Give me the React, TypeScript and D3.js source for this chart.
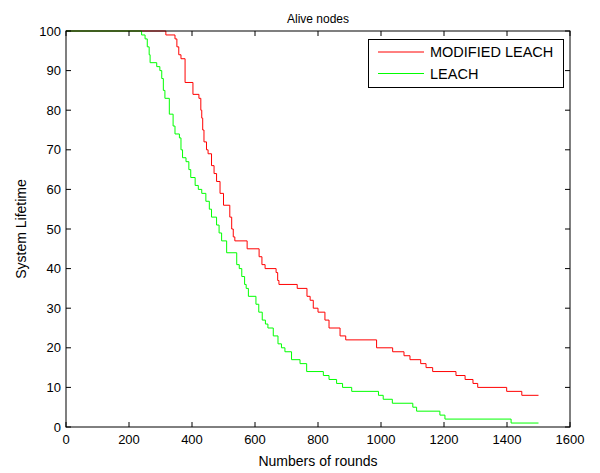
import React from "react";
import * as d3 from "d3";

const xTicks = [0, 200, 400, 600, 800, 1000, 1200, 1400, 1600];
const yTicks = [0, 10, 20, 30, 40, 50, 60, 70, 80, 90, 100];

const modifiedLeach: [number, number][] = [
  [0, 100], [317, 99], [346, 98], [352, 96], [358, 94], [365, 93], [378, 87], [403, 84], [422, 83],
  [428, 80], [431, 78], [434, 75], [438, 72], [446, 70], [451, 69], [462, 66], [470, 64], [478, 62],
  [489, 59], [500, 56], [520, 53], [526, 50], [531, 48], [536, 47], [575, 45], [613, 43], [622, 41],
  [632, 40], [667, 39], [672, 37], [676, 36], [734, 35], [765, 33], [775, 32], [785, 30], [800, 29],
  [822, 27], [835, 25], [870, 23], [888, 22], [986, 20], [1037, 19], [1073, 18], [1092, 17],
  [1126, 16], [1143, 15], [1164, 14], [1238, 13], [1267, 12], [1292, 11], [1307, 10], [1399, 9],
  [1447, 8], [1500, 8],
];

const leach: [number, number][] = [
  [0, 100], [240, 99], [251, 98], [258, 96], [264, 94], [267, 92], [288, 91], [298, 90], [304, 88],
  [309, 85], [314, 83], [328, 79], [340, 76], [346, 74], [360, 73], [365, 70], [370, 68], [381, 67],
  [390, 65], [396, 63], [410, 61], [420, 60], [431, 59], [444, 57], [455, 55], [462, 53], [478, 51],
  [486, 49], [494, 47], [510, 44], [542, 41], [550, 40], [558, 38], [567, 36], [572, 35], [579, 33],
  [603, 31], [612, 29], [623, 27], [633, 26], [641, 25], [658, 23], [673, 21], [684, 20], [695, 19],
  [716, 17], [743, 16], [764, 14], [817, 13], [835, 12], [859, 11], [878, 10], [907, 9], [992, 8],
  [1007, 7], [1036, 6], [1101, 5], [1113, 4], [1187, 3], [1203, 2], [1413, 1], [1500, 1],
];

const seriesNames = ["MODIFIED LEACH", "LEACH"];
const seriesColors = ["#ff0000", "#00ff00"];

export default function App() {
  const W = 600, H = 473;
  const L = 66, R = 570, T = 31, B = 427;
  const x = d3.scaleLinear().domain([0, 1600]).range([L, R]);
  const y = d3.scaleLinear().domain([0, 100]).range([B, T]);
  const line = d3.line<[number, number]>().x(d => x(d[0])).y(d => y(d[1])).curve(d3.curveStepAfter);
  const font = "Liberation Sans, Arial, sans-serif";
  return (
    <svg width={W} height={H} style={{ position: "absolute", left: 0, top: 0, background: "#fff" }} fontFamily={font}>
      <rect x={0} y={0} width={W} height={H} fill="#fff" />
      <text x={(L + R) / 2} y={23} textAnchor="middle" fontSize={12}>Alive nodes</text>
      <path d={line(modifiedLeach) || ""} fill="none" stroke={seriesColors[0]} strokeWidth={1} />
      <path d={line(leach) || ""} fill="none" stroke={seriesColors[1]} strokeWidth={1} />
      <rect x={L} y={T} width={R - L} height={B - T} fill="none" stroke="#000" strokeWidth={1} />
      {xTicks.map(t => (
        <g key={"x" + t}>
          <line x1={x(t)} x2={x(t)} y1={B} y2={B - 5} stroke="#000" />
          <line x1={x(t)} x2={x(t)} y1={T} y2={T + 5} stroke="#000" />
          <text x={x(t)} y={B + 17} textAnchor="middle" fontSize={13}>{t}</text>
        </g>
      ))}
      {yTicks.map(t => (
        <g key={"y" + t}>
          <line x1={L} x2={L + 5} y1={y(t)} y2={y(t)} stroke="#000" />
          <line x1={R} x2={R - 5} y1={y(t)} y2={y(t)} stroke="#000" />
          <text x={L - 5} y={y(t) + 4.5} textAnchor="end" fontSize={13}>{t}</text>
        </g>
      ))}
      <text x={(L + R) / 2} y={466} textAnchor="middle" fontSize={14}>Numbers of rounds</text>
      <text transform={`translate(26,${(T + B) / 2}) rotate(-90)`} textAnchor="middle" fontSize={14}>System Lifetime</text>
      <rect x={368.5} y={39.5} width={195} height={48} fill="#fff" stroke="#000" strokeWidth={1} />
      {seriesNames.map((n, i) => (
        <g key={n}>
          <line x1={378} x2={424} y1={52 + i * 21.5} y2={52 + i * 21.5} stroke={seriesColors[i]} strokeWidth={1} />
          <text x={430} y={52 + i * 21.5 + 5} fontSize={14.5}>{n}</text>
        </g>
      ))}
    </svg>
  );
}
